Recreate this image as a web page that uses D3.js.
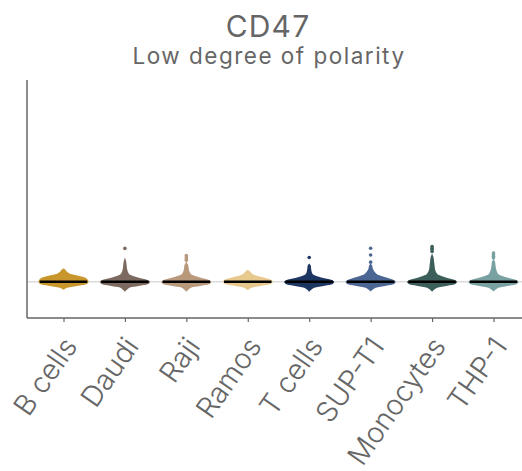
<!DOCTYPE html>
<html>
<head>
<meta charset="utf-8">
<script src="https://cdn.jsdelivr.net/npm/d3@7"></script>
<style>
  body { margin: 0; background: #fff; }
  text { font-family: Inter, "Noto Sans", sans-serif; }
</style>
</head>
<body>
<div id="chart"></div>
<script>
// ---------- Data

var categories = ["B cells", "Daudi", "Raji", "Ramos", "T cells", "SUP-T1", "Monocytes", "THP-1"];
var colors = ["#c9962c", "#7c6a61", "#b8997c", "#e8c98d", "#1d3561", "#4b6693", "#3c5f5c", "#7aa1a2"];

// density profiles: polarity levels and relative half-widths
var levels = {
  "B cells":   [-0.04, -0.03, -0.02, -0.01, 0, 0.01, 0.02, 0.03, 0.04, 0.05, 0.06, 0.065],
  "Daudi":     [-0.05, -0.04, -0.03, -0.02, -0.01, 0, 0.01, 0.02, 0.03, 0.04, 0.06, 0.08, 0.10, 0.12],
  "Raji":      [-0.05, -0.04, -0.03, -0.02, -0.01, 0, 0.01, 0.02, 0.03, 0.04, 0.06, 0.08, 0.10],
  "Ramos":     [-0.042, -0.03, -0.02, -0.01, 0, 0.01, 0.02, 0.03, 0.04, 0.05, 0.06],
  "T cells":   [-0.05, -0.04, -0.03, -0.02, -0.01, 0, 0.01, 0.02, 0.03, 0.04, 0.06, 0.08, 0.09],
  "SUP-T1":    [-0.048, -0.04, -0.03, -0.02, -0.01, 0, 0.01, 0.02, 0.03, 0.04, 0.06, 0.08, 0.09],
  "Monocytes": [-0.05, -0.04, -0.03, -0.02, -0.01, 0, 0.01, 0.02, 0.03, 0.04, 0.06, 0.08, 0.10, 0.12, 0.14],
  "THP-1":     [-0.048, -0.04, -0.03, -0.02, -0.01, 0, 0.01, 0.02, 0.03, 0.04, 0.06, 0.08, 0.10, 0.11]
};
var widths = {
  "B cells":   [0, 0.15, 0.6, 0.95, 1, 0.97, 0.88, 0.6, 0.25, 0.13, 0.07, 0],
  "Daudi":     [0, 0.08, 0.18, 0.6, 0.95, 1, 0.88, 0.55, 0.3, 0.16, 0.09, 0.07, 0.05, 0],
  "Raji":      [0, 0.08, 0.18, 0.6, 0.95, 1, 0.88, 0.58, 0.32, 0.17, 0.1, 0.08, 0],
  "Ramos":     [0, 0.15, 0.55, 0.93, 1, 0.93, 0.68, 0.35, 0.17, 0.09, 0],
  "T cells":   [0, 0.08, 0.2, 0.62, 0.95, 1, 0.88, 0.52, 0.26, 0.13, 0.08, 0.06, 0],
  "SUP-T1":    [0, 0.08, 0.2, 0.62, 0.95, 1, 0.9, 0.66, 0.4, 0.23, 0.1, 0.06, 0],
  "Monocytes": [0, 0.08, 0.2, 0.62, 0.95, 1, 0.88, 0.58, 0.35, 0.2, 0.12, 0.1, 0.08, 0.06, 0],
  "THP-1":     [0, 0.08, 0.2, 0.62, 0.95, 1, 0.88, 0.58, 0.32, 0.18, 0.11, 0.08, 0.06, 0]
};
var outliers = {
  "B cells":   [],
  "Daudi":     [0.165],
  "Raji":      [0.106, 0.114, 0.122, 0.13],
  "Ramos":     [],
  "T cells":   [0.12],
  "SUP-T1":    [0.097, 0.132, 0.166],
  "Monocytes": [0.15, 0.158, 0.166, 0.174],
  "THP-1":     [0.118, 0.126, 0.134, 0.142]
};
var medians = [0, 0, 0, 0, 0, 0, 0, 0];

var yDomain = [-0.18, 1];

// ---------- Layout

var width = 522, height = 471;
var plotLeft = 27, plotRight = 522, plotTop = 80, plotBottom = 318;
var halfWidth = 25;

var svg = d3.select("#chart").append("svg")
  .attr("width", width)
  .attr("height", height);

var x = d3.scalePoint().domain(categories).range([63.5, 493.5]);
var y = d3.scaleLinear().domain(yDomain).range([plotBottom, plotTop]);

// zero reference line
svg.append("line")
  .attr("x1", plotLeft).attr("x2", plotRight)
  .attr("y1", y(0)).attr("y2", y(0))
  .attr("stroke", "#dcdcdc").attr("stroke-width", 1.5);

// violins
var area = d3.area()
  .curve(d3.curveCatmullRom)
  .y(d => y(d.v));

categories.forEach(function(cat, i)
{
  var cx = x(cat);
  var pts = levels[cat].map((v, j) => ({ v: v, w: widths[cat][j] }));
  area.x0(d => cx - d.w * halfWidth).x1(d => cx + d.w * halfWidth);

  svg.append("path")
    .datum(pts)
    .attr("d", area)
    .attr("fill", colors[i]);

  svg.selectAll(null)
    .data(outliers[cat])
    .enter().append("circle")
    .attr("cx", cx)
    .attr("cy", d => y(d))
    .attr("r", 1.8)
    .attr("fill", colors[i]);

  svg.append("line")
    .attr("x1", cx - halfWidth * 0.95).attr("x2", cx + halfWidth * 0.95)
    .attr("y1", y(medians[i])).attr("y2", y(medians[i]))
    .attr("stroke", "#000").attr("stroke-width", 2.5);
});

// axes
var axisColor = "#666";
svg.append("line")
  .attr("x1", plotLeft).attr("x2", plotLeft)
  .attr("y1", plotTop).attr("y2", plotBottom)
  .attr("stroke", axisColor).attr("stroke-width", 1.5);

var xAxis = svg.append("g")
  .attr("transform", `translate(0, ${plotBottom})`)
  .call(d3.axisBottom(x).tickSize(4).tickPadding(6).tickSizeOuter(0));

xAxis.select(".domain")
  .attr("d", `M${plotLeft},0H${plotRight}`)
  .attr("stroke", axisColor).attr("stroke-width", 1.5);
xAxis.selectAll(".tick line").attr("stroke", axisColor).attr("stroke-width", 1.2);
xAxis.selectAll(".tick text")
  .attr("fill", "#666")
  .style("font-size", "28.5px")
  .style("font-weight", "300")
  .attr("text-anchor", "end")
  .attr("dy", "0.35em")
  .attr("transform", "translate(-2, 17) rotate(-55)");

// titles
svg.append("text")
  .attr("x", 268).attr("y", 37)
  .attr("text-anchor", "middle")
  .attr("fill", "#666")
  .style("font-size", "30px")
  .style("letter-spacing", "1.2px")
  .text("CD47");

svg.append("text")
  .attr("x", 269).attr("y", 63.5)
  .attr("text-anchor", "middle")
  .attr("fill", "#666")
  .style("font-size", "22.5px")
  .style("letter-spacing", "1.5px")
  .text("Low degree of polarity");
</script>
</body>
</html>
